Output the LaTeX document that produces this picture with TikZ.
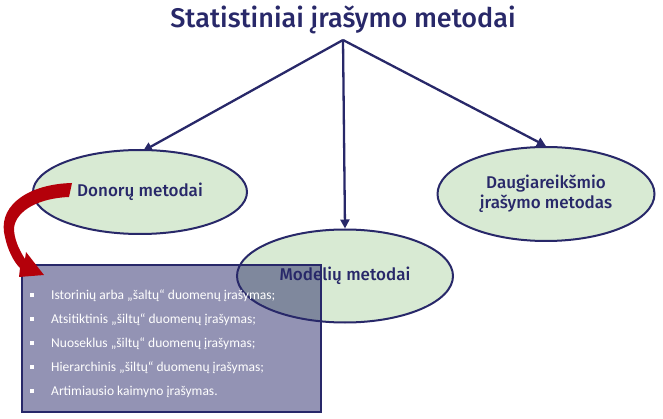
\documentclass[tikz,border=0pt]{standalone}
\usepackage{fontspec}
\setmainfont{Fira Sans}
\newfontfamily\firamed{Fira Sans Medium}
\newfontfamily\carl{Carlito}
\usetikzlibrary{arrows.meta,shapes.geometric}
\definecolor{navy}{RGB}{40,40,105}
\definecolor{lgreen}{RGB}{216,234,211}
\definecolor{dred}{RGB}{180,0,10}
\tikzset{
  method/.style={ellipse, draw=navy, line width=2pt, fill=lgreen, inner sep=0pt,
    text=navy, font=\firamed\fontsize{17}{20}\selectfont, align=center},
  conn/.style={draw=navy, line width=2.3pt, -{Triangle[length=9pt,width=9pt]}},
  itemtext/.style={anchor=west, text=white, font=\carl\fontsize{13.5}{15}\selectfont, inner sep=0pt},
  bul/.style={fill=white, minimum size=4pt, inner sep=0pt},
}
\begin{document}
\begin{tikzpicture}[x=1pt,y=-1pt]
\useasboundingbox (0,0) rectangle (663,419);
\node[text=navy, font=\firamed\fontsize{27}{32}\selectfont] (title) at (343,20) {Statistiniai įrašymo metodai};
\coordinate (apex) at (343,40);
\node[method, minimum width=214pt, minimum height=84pt] (donor) at (140,192) {Donorų metodai};
\node[method, minimum width=216pt, minimum height=93pt] (model) at (345,276) {Modelių metodai};
\node[method, minimum width=217pt, minimum height=94pt] (daug) at (546,194) {Daugiareikšmio\\įrašymo metodas};
\draw[conn] (apex) -- ([xshift=3pt,yshift=-2pt]donor.north);
\draw[conn] (apex) -- (model.north);
\draw[conn] (apex) -- (daug.north);
% list box
\node[draw=navy, line width=2pt, fill=navy, fill opacity=0.5, draw opacity=1, minimum width=299pt, minimum height=147pt, inner sep=0pt] (box) at (171.5,338.5) {};
\foreach \t [count=\i] in {Istorinių arba „šaltų“ duomenų įrašymas;, Atsitiktinis „šiltų“ duomenų įrašymas;, Nuoseklus „šiltų“ duomenų įrašymas;, Hierarchinis „šiltų“ duomenų įrašymas;, Artimiausio kaimyno įrašymas.}{
  \node[bul] (b\i) at (32,{271+24*\i}) {};
  \node[itemtext] (t\i) at (51,{272+24*\i}) {\t};
}
% red curved arrow
\fill[dred] (72,183) .. controls (30,184) and (0,204) .. (4,232)
  .. controls (7,250) and (14,262) .. (20,268) -- (19,277) -- (44,275) -- (26,252) -- (25,259)
  .. controls (18,248) and (14,238) .. (14,228)
  .. controls (16,210) and (40,198) .. (69,197) -- cycle;
\end{tikzpicture}
\end{document}
